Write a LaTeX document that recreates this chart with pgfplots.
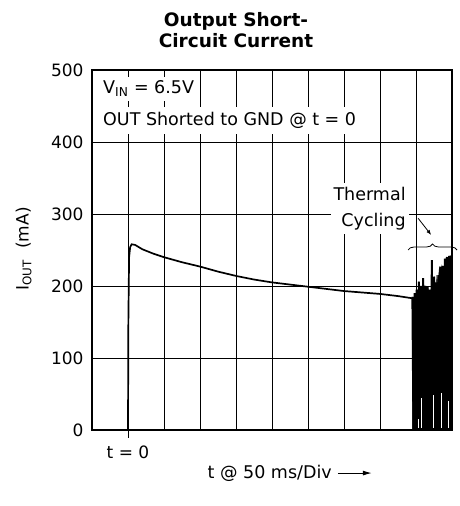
\documentclass[border=0pt]{standalone}
\usepackage{pgfplots}
\pgfplotsset{compat=1.18}
\usepackage{fontspec}
\setmainfont{DejaVu Sans}
\usetikzlibrary{decorations.pathreplacing,arrows.meta}
\begin{document}
\begin{tikzpicture}
\begin{axis}[
  scale only axis, width=360pt, height=360pt,
  xmin=0, xmax=10, ymin=0, ymax=500,
  xtick={0,1,...,10}, xticklabels={},
  ytick={0,100,...,500},
  major tick length=0pt,
  grid=major, grid style={black, line width=0.8pt},
  axis line style={line width=1.3pt},
  tick label style={font=\fontsize{17}{20}\selectfont},
  /pgf/number format/assume math mode=true,
  yticklabel style={xshift=-5pt},
  title={\textbf{Output Short-}\\\textbf{Circuit Current}},
  title style={font=\fontsize{18.5}{21.5}\selectfont, align=center, at={(axis description cs:0.40,1.035)}, anchor=south},
  ylabel={I\textsubscript{OUT} \ (mA)},
  ylabel style={font=\fontsize{17}{20}\selectfont, at={(axis description cs:-0.19,0.503)}, anchor=center},
  xlabel={t @ 50 ms/Div \tikz[baseline=-0.55ex]\draw[-{Latex[length=9pt,width=5pt]},line width=1pt](0,0)--(34pt,0);},
  xlabel style={font=\fontsize{17.5}{20}\selectfont, at={(axis description cs:0.55,-0.12)}, anchor=center},
  clip=false,
]
% main curve
\addplot[black, line width=1.7pt] coordinates {
 (0,0) (1,0) (1.01,150) (1.03,240) (1.06,254) (1.1,258) (1.2,257) (1.4,251)
 (1.7,245) (2,240) (2.5,233) (3,227) (3.5,220) (4,214) (4.5,209) (5,205)
 (5.5,202) (6,199) (6.5,196) (7,193) (7.5,191) (8,189) (8.5,186) (8.89,183)
};
% thermal cycling: filled envelope
\addplot[fill=black, draw=black, line width=0.4pt] coordinates {
 (8.897,0) (8.897,185) (8.94,170) (8.97,190) (9.0,120) (9.03,195) (9.06,150)
 (9.08,206) (9.11,140) (9.14,200) (9.17,160) (9.19,211) (9.22,170) (9.26,200)
 (9.31,165) (9.33,199) (9.36,180) (9.39,195) (9.42,170) (9.44,236) (9.47,180)
 (9.51,213) (9.56,190) (9.58,215) (9.61,200) (9.65,227) (9.69,205) (9.72,228)
 (9.76,215) (9.81,238) (9.83,225) (9.86,240) (9.90,232) (9.94,242) (9.97,242)
 (9.97,0)
} \closedcycle;
% thermal cycling: oscillation
\addplot[black, line width=2pt, line join=bevel] coordinates {
 (8.90,185) (8.93,0) (8.96,190) (8.99,0) (9.02,195) (9.05,0) (9.08,206)
 (9.11,0) (9.14,200) (9.17,0) (9.20,211) (9.23,0) (9.26,200) (9.29,0)
 (9.32,199) (9.35,0) (9.38,195) (9.41,0) (9.44,236) (9.47,0) (9.50,213)
 (9.53,0) (9.56,205) (9.59,0) (9.62,215) (9.65,0) (9.68,227) (9.71,0)
 (9.74,228) (9.77,0) (9.80,238) (9.83,0) (9.86,240) (9.89,0) (9.92,242)
 (9.95,0) (9.96,242)
};
\addplot[white, line width=0.6pt] coordinates {(9.05,3) (9.05,15)};
\addplot[white, line width=0.6pt] coordinates {(9.16,3) (9.16,44)};
\addplot[white, line width=0.6pt] coordinates {(9.48,3) (9.48,49)};
\addplot[white, line width=0.6pt] coordinates {(9.71,3) (9.71,51)};
\addplot[white, line width=0.6pt] coordinates {(9.90,3) (9.90,40)};
% annotations
\node[fill=white, anchor=west, inner xsep=2pt, inner ysep=4pt, font=\fontsize{17.5}{20}\selectfont] at (axis cs:0.25,474) {V\textsubscript{IN} = 6.5V};
\node[fill=white, anchor=west, inner xsep=2pt, inner ysep=5pt, font=\fontsize{17.5}{20}\selectfont] at (axis cs:0.25,430) {OUT Shorted to GND @ t = 0};
\node[fill=white, anchor=east, align=right, inner xsep=3pt, inner ysep=4pt, font=\fontsize{17.5}{26}\selectfont] at (axis cs:8.8,307) {Thermal\\Cycling};
\draw[-{Latex[length=5pt,width=4pt]}, line width=0.8pt] (axis cs:9.06,294) -- (axis cs:9.42,271);
\draw[decorate, decoration={brace, amplitude=6pt}, line width=0.8pt] (axis cs:8.78,250) -- (axis cs:10.14,250);
\draw[line width=0.8pt] (axis cs:1,0) -- (axis cs:1,-11);
\node[font=\fontsize{17}{20}\selectfont] at (axis cs:1,-31) {t = 0};
\end{axis}
\path[use as bounding box] (-92pt,-76pt) rectangle (367pt,430pt);
\end{tikzpicture}
\end{document}
